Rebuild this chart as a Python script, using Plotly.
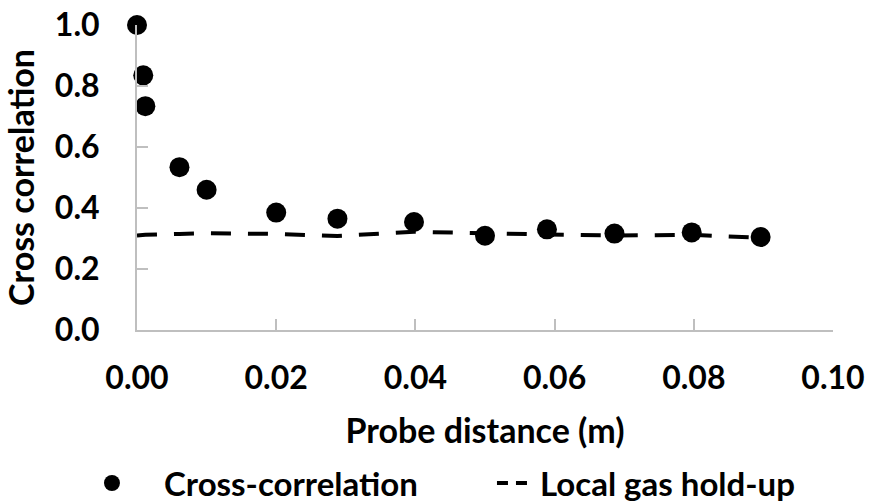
import plotly.graph_objects as go

probe_distance = [0.0, 0.0009, 0.0012, 0.0061, 0.0100, 0.0200, 0.0288, 0.0398, 0.0500, 0.0589, 0.0686, 0.0797, 0.0896]
cross_corr = [1.0, 0.835, 0.734, 0.534, 0.460, 0.385, 0.365, 0.354, 0.309, 0.330, 0.316, 0.320, 0.305]
gas_holdup = [0.310, 0.310, 0.312, 0.315, 0.317, 0.315, 0.308, 0.322, 0.316, 0.313, 0.310, 0.312, 0.302]

x_ticks = [0.0, 0.02, 0.04, 0.06, 0.08, 0.10]
x_tick_labels = ["0.00", "0.02", "0.04", "0.06", "0.08", "0.10"]
y_ticks = [0.0, 0.2, 0.4, 0.6, 0.8, 1.0]
y_tick_labels = ["0.0", "0.2", "0.4", "0.6", "0.8", "1.0"]

FONT = "Lato"
TICK_SIZE = 32
TEXT_SIZE = 34
LEGEND_SIZE = 33
NBSP = "\u00a0"

fig = go.Figure()
fig.add_trace(go.Scatter(
    x=probe_distance, y=gas_holdup, mode="lines", name="Local gas hold-up",
    line=dict(color="black", width=4, dash="20px,17px"), showlegend=False,
))
fig.add_trace(go.Scatter(
    x=probe_distance, y=cross_corr, mode="markers", name=NBSP * 4 + "Cross-correlation",
    marker=dict(color="black", size=20),
))
# legend-only entry for the dashed series
fig.add_trace(go.Scatter(
    x=[None], y=[None], mode="lines", name=NBSP + "Local gas hold-up",
    line=dict(color="black", width=4, dash="11px,8px"),
))

fig.update_layout(
    width=870, height=504,
    margin=dict(l=137, r=37, t=25, b=174, autoexpand=False),
    paper_bgcolor="white", plot_bgcolor="white",
    font=dict(family=FONT, color="black", size=TEXT_SIZE),
    showlegend=True,
    legend=dict(orientation="h", x=-0.0647, xanchor="left", y=-0.41, yanchor="top",
                font=dict(size=LEGEND_SIZE, family=FONT, weight="bold"),
                itemwidth=30, entrywidth=355),
    xaxis=dict(range=[0, 0.1], tickvals=x_ticks, ticktext=x_tick_labels, automargin=False,
               showgrid=False, zeroline=False, showline=True, linecolor="#bfbfbf", linewidth=2,
               ticks="inside", ticklen=11, tickcolor="#bfbfbf", tickwidth=2,
               ticklabeloverflow="allow",
               tickfont=dict(size=TICK_SIZE, family=FONT, weight="bold"), ticklabelstandoff=19,
               title=dict(text="Probe distance (m)", font=dict(size=TEXT_SIZE, family=FONT, weight="bold"), standoff=24)),
    yaxis=dict(range=[0, 1.0], tickvals=y_ticks, ticktext=y_tick_labels, automargin=False,
               showgrid=False, zeroline=False, showline=True, linecolor="#bfbfbf", linewidth=2,
               ticks="inside", ticklen=11, tickcolor="#bfbfbf", tickwidth=2,
               ticklabeloverflow="allow",
               tickfont=dict(size=TICK_SIZE, family=FONT, weight="bold"), ticklabelstandoff=29,
               title=dict(text="Cross correlation", font=dict(size=TEXT_SIZE, family=FONT, weight="bold"), standoff=14)),
)
fig.update_traces(cliponaxis=False)

# remove the browser's default 8px body margin so the figure fills the window
fig.write_html("out.html", config={"displayModeBar": False},
               post_script="document.body.style.margin='0';")
